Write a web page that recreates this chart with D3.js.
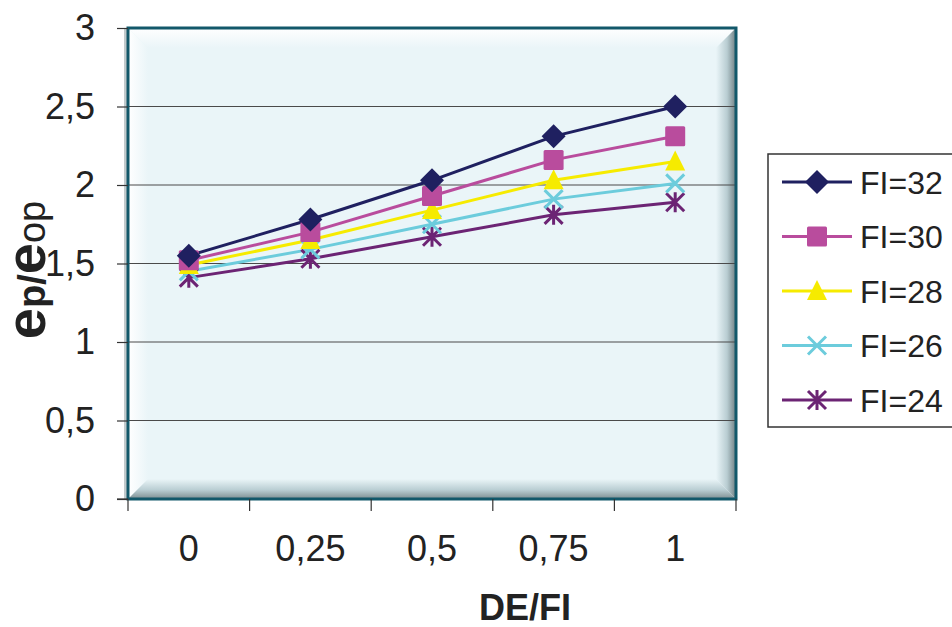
<!DOCTYPE html>
<html>
<head>
<meta charset="utf-8">
<script src="https://cdn.jsdelivr.net/npm/d3@7"></script>
<style>
  html, body { margin: 0; padding: 0; background: #fff; }
  svg { display: block; font-family: "Liberation Sans", Arial, sans-serif; }
</style>
</head>
<body>
<svg id="chart" width="952" height="627"></svg>
<script>
// DE/FI ratios along the horizontal axis
const categories = ["0", "0,25", "0,5", "0,75", "1"];

// ep/eop for each FI value
const seriesNames = ["FI=32", "FI=30", "FI=28", "FI=26", "FI=24"];
const fi32 = [1.55, 1.78, 2.03, 2.31, 2.50];
const fi30 = [1.52, 1.70, 1.93, 2.16, 2.31];
const fi28 = [1.49, 1.65, 1.84, 2.03, 2.15];
const fi26 = [1.45, 1.59, 1.75, 1.91, 2.01];
const fi24 = [1.41, 1.53, 1.67, 1.81, 1.89];

const yTicks = [0, 0.5, 1, 1.5, 2, 2.5, 3];

const seriesColors = ["#1f2060", "#b94c9d", "#f6eb00", "#6cccdc", "#6c2474"];
const seriesMarkers = ["diamond", "square", "triangle", "cross", "star"];

const series = [fi32, fi30, fi28, fi26, fi24].map((vals, i) => ({
  name: seriesNames[i], values: vals, color: seriesColors[i], marker: seriesMarkers[i]
}));

const svg = d3.select("#chart");
const plot = { left: 128, top: 28, right: 736, bottom: 499 };

const x = d3.scaleBand().domain(categories).range([plot.left, plot.right]);
const y = d3.scaleLinear().domain([0, 3]).range([plot.bottom, plot.top]);

// plot-area fill and bevel shading
const defs = svg.append("defs");
const gb = defs.append("linearGradient").attr("id", "bevelBottom").attr("x1", 0).attr("y1", 0).attr("x2", 0).attr("y2", 1);
gb.append("stop").attr("offset", "0%").attr("stop-color", "#eaf5f8");
gb.append("stop").attr("offset", "55%").attr("stop-color", "#b9cdd2");
gb.append("stop").attr("offset", "100%").attr("stop-color", "#7d8d90");
const gr = defs.append("linearGradient").attr("id", "bevelRight").attr("x1", 0).attr("y1", 0).attr("x2", 1).attr("y2", 0);
gr.append("stop").attr("offset", "0%").attr("stop-color", "#eaf5f8");
gr.append("stop").attr("offset", "55%").attr("stop-color", "#b9cdd2");
gr.append("stop").attr("offset", "100%").attr("stop-color", "#6f7f82");
const gt = defs.append("linearGradient").attr("id", "bevelTop").attr("x1", 0).attr("y1", 0).attr("x2", 0).attr("y2", 1);
gt.append("stop").attr("offset", "0%").attr("stop-color", "#ffffff");
gt.append("stop").attr("offset", "100%").attr("stop-color", "#eaf5f8");
const gl = defs.append("linearGradient").attr("id", "bevelLeft").attr("x1", 0).attr("y1", 0).attr("x2", 1).attr("y2", 0);
gl.append("stop").attr("offset", "0%").attr("stop-color", "#ffffff");
gl.append("stop").attr("offset", "100%").attr("stop-color", "#eaf5f8");

const L = plot.left, T = plot.top, R = plot.right, B = plot.bottom, bw = 20;
// soft shadow just outside the left edge
svg.append("rect").attr("x", L - 4).attr("y", T).attr("width", 4).attr("height", B - T)
  .attr("fill", "#9aa7aa").attr("opacity", 0.6);
svg.append("rect").attr("x", L).attr("y", T).attr("width", R - L).attr("height", B - T).attr("fill", "#eaf5f8");
svg.append("path").attr("d", `M${L},${T}L${R},${T}L${R - bw},${T + bw}L${L + bw},${T + bw}Z`).attr("fill", "url(#bevelTop)");
svg.append("path").attr("d", `M${L},${T}L${L + bw},${T + bw}L${L + bw},${B - bw}L${L},${B}Z`).attr("fill", "url(#bevelLeft)");
svg.append("path").attr("d", `M${L},${B}L${L + bw},${B - bw}L${R - bw},${B - bw}L${R},${B}Z`).attr("fill", "url(#bevelBottom)");
svg.append("path").attr("d", `M${R},${T}L${R},${B}L${R - bw},${B - bw}L${R - bw},${T + bw}Z`).attr("fill", "url(#bevelRight)");

// horizontal gridlines
svg.append("g").selectAll("line").data(yTicks.filter(d => d > 0 && d < 3)).join("line")
  .attr("x1", L).attr("x2", R).attr("y1", d => y(d)).attr("y2", d => y(d))
  .attr("stroke", "#4a4a4a").attr("stroke-width", 1.2);

// plot-area frame
svg.append("rect").attr("x", L).attr("y", T).attr("width", R - L).attr("height", B - T)
  .attr("fill", "none").attr("stroke", "#12586a").attr("stroke-width", 3);

// y axis
const yAxis = svg.append("g").attr("transform", `translate(${L},0)`)
  .call(d3.axisLeft(y).tickValues(yTicks).tickSize(11).tickPadding(22)
    .tickFormat(d => String(d).replace(".", ",")));
yAxis.select(".domain").remove();
yAxis.selectAll(".tick line").attr("stroke", "#333").attr("stroke-width", 1.2);
yAxis.selectAll(".tick text").attr("font-size", 36).attr("fill", "#222")
  .attr("font-family", "'Liberation Sans', Arial, sans-serif");

// x axis: labels at band centers, tick marks at band edges
const xAxis = svg.append("g").attr("transform", `translate(0,${B})`)
  .call(d3.axisBottom(x).tickSize(0));
xAxis.select(".domain").remove();
xAxis.selectAll(".tick text").attr("font-size", 36).attr("fill", "#222")
  .attr("y", 62).attr("dy", 0)
  .attr("font-family", "'Liberation Sans', Arial, sans-serif");
const edges = categories.map(c => x(c)).concat([x(categories[categories.length - 1]) + x.bandwidth()]);
svg.append("g").selectAll("line").data(edges).join("line")
  .attr("x1", d => d).attr("x2", d => d).attr("y1", B).attr("y2", B + 12)
  .attr("stroke", "#333").attr("stroke-width", 1.2);
svg.append("line").attr("x1", L - 11).attr("x2", L).attr("y1", B).attr("y2", B)
  .attr("stroke", "#333").attr("stroke-width", 1.2);

// axis titles
svg.append("text").attr("x", 525).attr("y", 620).attr("text-anchor", "middle")
  .attr("font-size", 36).attr("font-weight", "bold").attr("fill", "#222").text("DE/FI");

const yTitle = svg.append("text").attr("transform", "translate(45,270) rotate(-90)")
  .attr("text-anchor", "middle").attr("fill", "#222");
yTitle.append("tspan").attr("font-size", 56).attr("font-weight", "bold").text("e");
yTitle.append("tspan").attr("font-size", 38).attr("font-weight", "bold").text("p/");
yTitle.append("tspan").attr("font-size", 56).attr("font-weight", "bold").text("e");
yTitle.append("tspan").attr("font-size", 38).text("op");

// marker shapes
function drawMarker(g, type, color) {
  if (type === "diamond") {
    g.append("path").attr("d", "M0,-12L12,0L0,12L-12,0Z").attr("fill", color);
  } else if (type === "square") {
    g.append("rect").attr("x", -10).attr("y", -10).attr("width", 20).attr("height", 20).attr("rx", 1.5).attr("fill", color);
  } else if (type === "triangle") {
    g.append("path").attr("d", "M0,-11L10,9L-10,9Z").attr("fill", color);
  } else if (type === "cross") {
    g.append("path").attr("d", "M-9,-9L9,9M-9,9L9,-9").attr("stroke", color).attr("stroke-width", 3);
  } else if (type === "star") {
    g.append("path").attr("d", "M-9,-9L9,9M-9,9L9,-9M0,-10L0,10").attr("stroke", color).attr("stroke-width", 3);
  }
}

const line = d3.line().x((d, i) => x(categories[i]) + x.bandwidth() / 2).y(d => y(d));

// draw series from the lowest so the top ones sit above
const seriesG = svg.append("g");
series.slice().reverse().forEach(s => {
  seriesG.append("path").datum(s.values).attr("d", line)
    .attr("fill", "none").attr("stroke", s.color).attr("stroke-width", 3);
});
series.slice().reverse().forEach(s => {
  s.values.forEach((v, i) => {
    const g = seriesG.append("g")
      .attr("transform", `translate(${x(categories[i]) + x.bandwidth() / 2},${y(v)})`);
    drawMarker(g, s.marker, s.color);
  });
});

// legend
const legend = svg.append("g");
legend.append("rect").attr("x", 768).attr("y", 154).attr("width", 190).attr("height", 273)
  .attr("fill", "#fff").attr("stroke", "#333").attr("stroke-width", 1.5);
series.forEach((s, i) => {
  const cy = 182 + i * 54.5;
  const g = legend.append("g");
  g.append("line").attr("x1", 782).attr("x2", 852).attr("y1", cy).attr("y2", cy)
    .attr("stroke", s.color).attr("stroke-width", 3);
  drawMarker(g.append("g").attr("transform", `translate(817,${cy})`), s.marker, s.color);
  g.append("text").attr("x", 860).attr("y", cy + 11.5).attr("font-size", 32)
    .attr("fill", "#222").text(s.name);
});
</script>
</body>
</html>
